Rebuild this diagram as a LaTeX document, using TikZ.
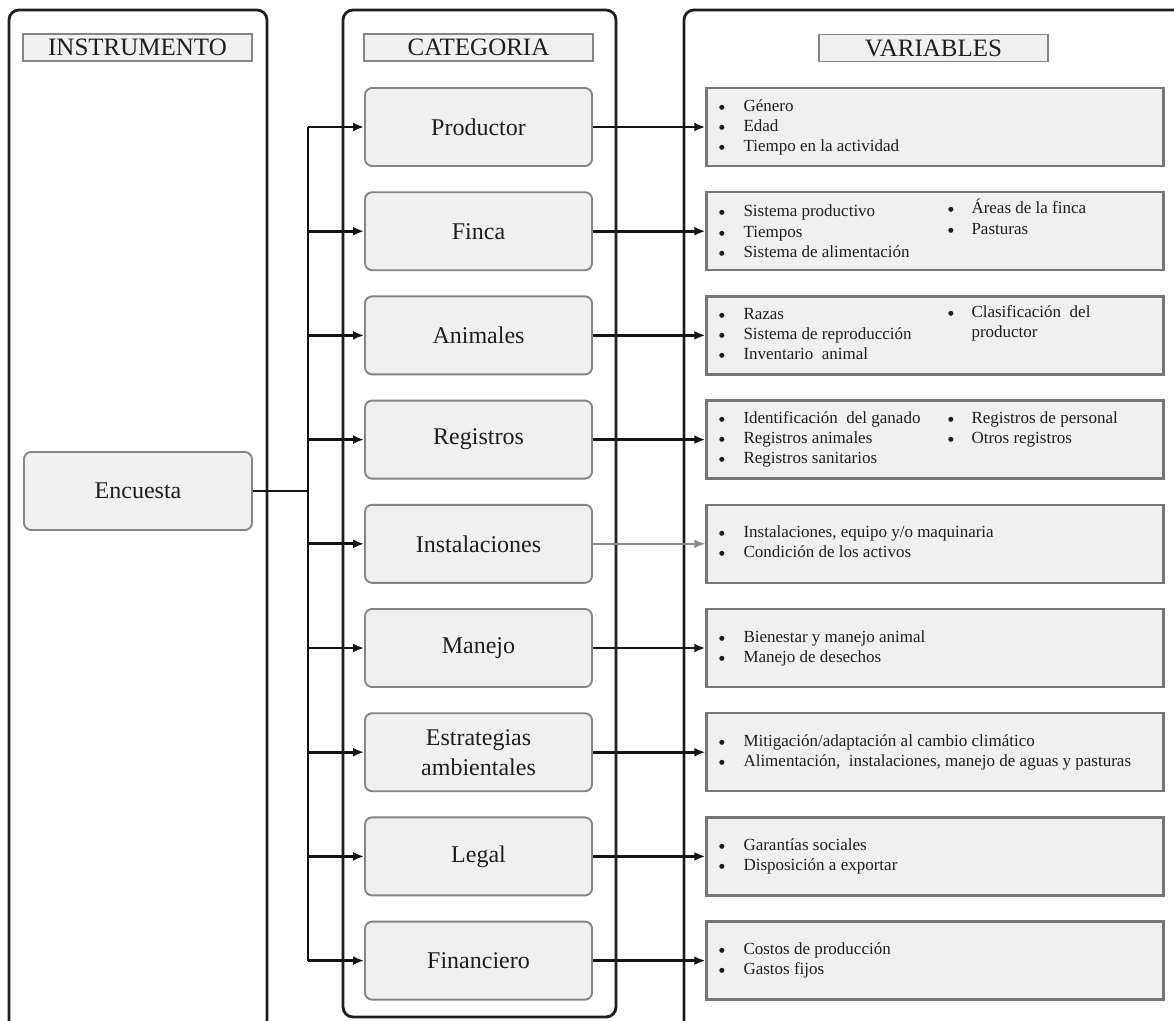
\documentclass[tikz,border=0pt]{standalone}
\usepackage{fontspec}
\setmainfont{Liberation Serif}
\newfontfamily\bulfont{DejaVu Sans}
\usetikzlibrary{arrows.meta}
\definecolor{boxfill}{HTML}{F0F0F0}
\definecolor{boxline}{HTML}{858585}
\definecolor{varline}{HTML}{767676}
\definecolor{panelline}{HTML}{1E1E1E}
\definecolor{txt}{HTML}{1E1E1E}
\definecolor{grayarrow}{HTML}{8C8C8C}
\newcommand{\bul}{\makebox[25pt][l]{\hspace{0.5pt}\raisebox{2pt}{\bulfont\fontsize{6.5}{20}\selectfont ●}}}
\newcommand{\bulb}{\makebox[24pt][l]{\hspace{0.5pt}\raisebox{2pt}{\bulfont\fontsize{6.5}{20}\selectfont ●}}}
\tikzset{
  panel/.style={draw=panelline, line width=2.8pt, rounded corners=10pt},
  header/.style={draw=boxline, fill=boxfill, line width=1.6pt, minimum width=229pt, minimum height=27pt, inner sep=0pt, text=txt, font=\fontsize{25}{28}\selectfont},
  catbox/.style={draw=boxline, fill=boxfill, line width=1.9pt, rounded corners=7pt, minimum width=227pt, minimum height=78pt, inner sep=0pt, text=txt, align=center, font=\fontsize{24}{30}\selectfont},
  varbox/.style={draw=varline, fill=boxfill, line width=2.4pt, minimum width=457pt, minimum height=78pt, inner sep=0pt},
  vtext/.style={anchor=west, inner sep=0pt, text=txt, font=\fontsize{17}{20}\selectfont},
  conn/.style={draw=black!92, line width=2.8pt, -{Latex[length=11pt,width=9pt]}},
  trunk/.style={draw=black!92, line width=2.8pt},
}
\begin{document}
\begin{tikzpicture}[x=1pt, y=-1pt]
\useasboundingbox (0,0) rectangle (1174,1020);
\clip (0,0) rectangle (1174,1020);
\fill[white] (0,0) rectangle (1174,1020);
% panels
\draw[panel] (9,1040) -- (9,10) -- (267,10) -- (267,1040);
\draw[panel] (343,10) rectangle (616,1017);
\draw[panel] (684,1040) -- (684,10) -- (1200,10);
% headers
\node[header] (hi) at (137.5,47.5) {INSTRUMENTO};
\node[header] (hc) at (478.5,47.5) {CATEGORIA};
\node[header] (hv) at (933.5,48) {VARIABLES};
% instrument
\node[catbox, minimum width=228pt] (enc) at (138,491) {Encuesta};
% categories
\node[catbox] (c1) at (478.5,127) {Productor};
\node[catbox] (c2) at (478.5,231.2) {Finca};
\node[catbox] (c3) at (478.5,335.4) {Animales};
\node[catbox] (c4) at (478.5,439.6) {Registros};
\node[catbox] (c5) at (478.5,543.8) {Instalaciones};
\node[catbox] (c6) at (478.5,648) {Manejo};
\node[catbox] (c7) at (478.5,752.2) {Estrategias\\ambientales};
\node[catbox] (c8) at (478.5,856.4) {Legal};
\node[catbox] (c9) at (478.5,960.6) {Financiero};
% variable boxes
\node[varbox] (v1) at (935,127) {};
\node[varbox] (v2) at (935,231.2) {};
\node[varbox] (v3) at (935,335.4) {};
\node[varbox] (v4) at (935,439.6) {};
\node[varbox] (v5) at (935,543.8) {};
\node[varbox] (v6) at (935,648) {};
\node[varbox] (v7) at (935,752.2) {};
\node[varbox] (v8) at (935,856.4) {};
\node[varbox] (v9) at (935,960.6) {};
% variable texts
\node[vtext] (t1) at ([xshift=13pt]v1.west) {\begin{tabular}{@{}l@{}}\bul Género\\ \bul Edad\\ \bul Tiempo en la actividad\end{tabular}};
\node[vtext] (t2) at ([xshift=13pt]v2.west) {\begin{tabular}{@{}p{229pt}@{}l@{}}\bul Sistema productivo & \raisebox{3pt}{\bulb Áreas de la finca}\\ \bul Tiempos & \raisebox{3pt}{\bulb Pasturas}\\ \bul Sistema de alimentación & \end{tabular}};
\node[vtext] (t3) at ([xshift=13pt]v3.west) {\begin{tabular}{@{}p{229pt}@{}l@{}}\bul Razas & \raisebox{2pt}{\bulb Clasificación\ \ del}\\ \bul Sistema de reproducción & \raisebox{2pt}{\makebox[24pt][l]{}productor}\\ \bul Inventario\ \ animal & \end{tabular}};
\node[vtext] (t4) at ([xshift=13pt]v4.west) {\begin{tabular}{@{}p{229pt}@{}l@{}}\bul Identificación\ \ del ganado & \bulb Registros de personal\\ \bul Registros animales & \bulb Otros registros\\ \bul Registros sanitarios & \end{tabular}};
\node[vtext] (t5) at ([xshift=13pt]v5.west) {\begin{tabular}{@{}l@{}}\bul Instalaciones, equipo y/o maquinaria\\ \bul Condición de los activos\end{tabular}};
\node[vtext] (t6) at ([xshift=13pt]v6.west) {\begin{tabular}{@{}l@{}}\bul Bienestar y manejo animal\\ \bul Manejo de desechos\end{tabular}};
\node[vtext] (t7) at ([xshift=13pt]v7.west) {\begin{tabular}{@{}l@{}}\bul Mitigación/adaptación al cambio climático\\ \bul Alimentación,\ \ instalaciones, manejo de aguas y pasturas\end{tabular}};
\node[vtext] (t8) at ([xshift=13pt]v8.west) {\begin{tabular}{@{}l@{}}\bul Garantías sociales\\ \bul Disposición a exportar\end{tabular}};
\node[vtext] (t9) at ([xshift=13pt]v9.west) {\begin{tabular}{@{}l@{}}\bul Costos de producción\\ \bul Gastos fijos\end{tabular}};
% connectors
\coordinate (j) at (308,491);
\draw[trunk] (enc.east) -- (j);
\draw[trunk] (j |- c1.west) -- (j |- c9.west);
\foreach \i in {1,...,9} {
  \draw[conn] (j |- c\i.west) -- (c\i.west);
}
\foreach \i in {1,2,3,4,6,7,8,9} {
  \draw[conn] (c\i.east) -- (v\i.west);
}
\draw[conn, draw=grayarrow, line width=1.8pt] (c5.east) -- (v5.west);
\end{tikzpicture}
\end{document}
